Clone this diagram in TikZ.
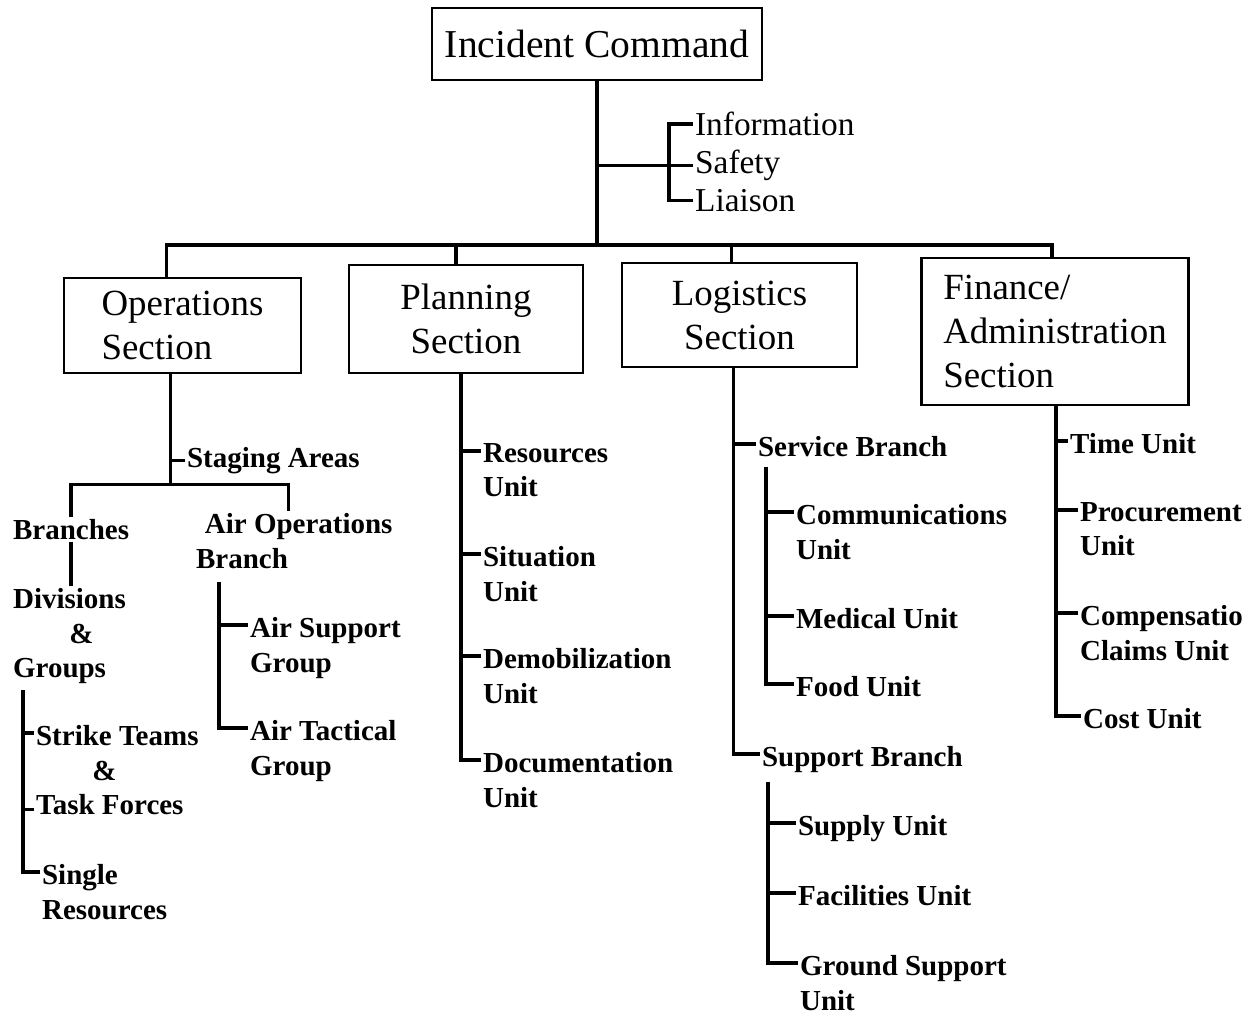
\documentclass[tikz,border=0pt]{standalone}
\usepackage{fontspec}
\setmainfont{Liberation Serif}
\usetikzlibrary{positioning,calc}

\begin{document}
\begin{tikzpicture}[x=0.02cm, y=-0.02cm,
        box/.style = {rectangle, draw, line width=1.5pt, inner sep=2pt, font=\fontsize{21}{25}\selectfont},
      staff/.style = {anchor=north west, inner sep=1pt, font=\fontsize{19}{22}\selectfont},
        lab/.style = {anchor=north west, align=left, inner sep=1pt, font=\bfseries\fontsize{16.5}{19.8}\selectfont},
       tree/.style = {line width=1.9pt}
                        ]
\useasboundingbox (0,0) rectangle (1256,1015);
% command and staff
\node (ic) [box, minimum width=6.6cm, minimum height=1.44cm, font=\fontsize{22.5}{27}\selectfont] at (597,44) {Incident Command};
\node (info)    [staff] at (693,110) {Information};
\node (safety)  [staff] at (693,148) {Safety};
\node (liaison) [staff] at (693,187) {Liaison};
\coordinate (bus) at (597,245);
% sections
\node (ops)  [box, align=left,   minimum width=4.74cm, minimum height=1.9cm]  at (182.5,325.5) {Operations\\Section};
\node (plan) [box, align=center, minimum width=4.68cm, minimum height=2.16cm] at (466,319)     {Planning\\Section};
\node (log)  [box, align=center, minimum width=4.7cm,  minimum height=2.08cm] at (739.5,315)   {Logistics\\Section};
\node (fin)  [box, align=left,   minimum width=5.34cm, minimum height=2.94cm] at (1055,331.5)  {Finance/\\Administration\\Section};
% operations
\node (staging)  [lab] at (185,445) {Staging Areas};
\node (branches) [lab] at (11,517)  {Branches};
\node (airops)   [lab] at (194,511) {\hspace*{5pt}Air Operations\\Branch};
\node (divs)     [lab] at (11,586)  {Divisions\\\hspace*{32pt}\&\\Groups};
\node (strike)   [lab] at (34,723)  {Strike Teams\\\hspace*{32pt}\&\\Task Forces};
\node (single)   [lab] at (40,862)  {Single\\Resources};
\node (airsup)   [lab] at (248,615) {Air Support\\Group};
\node (airtac)   [lab] at (248,718) {Air Tactical\\Group};
% planning
\node (res)   [lab] at (481,441) {Resources\\Unit};
\node (sit)   [lab] at (481,544) {Situation\\Unit};
\node (demob) [lab] at (481,646) {Demobilization\\Unit};
\node (doc)   [lab] at (481,750) {Documentation\\Unit};
% logistics
\node (service) [lab] at (756,434) {Service Branch};
\node (comm)    [lab] at (794,502) {Communications\\Unit};
\node (med)     [lab] at (794,606) {Medical Unit};
\node (food)    [lab] at (794,674) {Food Unit};
\node (support) [lab] at (760,744) {Support Branch};
\node (supply)  [lab] at (796,813) {Supply Unit};
\node (facil)   [lab] at (796,883) {Facilities Unit};
\node (ground)  [lab] at (798,953) {Ground Support\\Unit};
% finance
\node (time) [lab] at (1068,431) {Time Unit};
\node (proc) [lab] at (1078,500) {Procurement\\Unit};
\node (comp) [lab] at (1078,603) {Compensatio\\Claims Unit};
\node (cost) [lab] at (1081,706) {Cost Unit};

\draw[tree] (ic.south) -- (bus);
\draw[tree] (ic.south |- safety.west) -- (safety.west);
\draw[tree] (info.west) -- ++(-24,0) |- (liaison.west);
\draw[tree] ($(ops.north)+(-16,0)$) |- (bus) -| ($(fin.north)+(-3,0)$);
\draw[tree] ($(plan.north)+(-10,0)$) |- (bus);
\draw[tree] ($(log.north)+(-8,0)$) |- (bus);

\coordinate (opsj) at ($(ops.south)+(-12,110)$);
\draw[tree] ($(ops.south)+(-12,0)$) -- (opsj);
\draw[tree] (staging.west) -- ++(-15,0);
\draw[tree] (branches.north) |- (opsj) -| ($(airops.north)+(-6,0)$);
\draw[tree] (branches.south) -- (branches.south |- divs.north);
\draw[tree] ($(divs.south west)+(12,4)$) |- ([yshift=-0.2cm]single.north west);
\draw[tree] ([yshift=-0.2cm]strike.north west) -- ++(-13,0);
\draw[tree] ([yshift=0.16cm]strike.south west) -- ++(-13,0);
\draw[tree] ($(airops.south west)+(25,12)$) |- ([yshift=-0.2cm]airtac.north west);
\draw[tree] ([yshift=-0.2cm]airsup.north west) -- ++(-29,0);

\draw[tree] ($(plan.south)+(-5,0)$) |- ([yshift=-0.2cm]doc.north west);
\foreach \u in {res,sit,demob}
  \draw[tree] ([yshift=-0.2cm]\u.north west) -- ++(-20,0);

\draw[tree] ($(log.south)+(-6,0)$) |- ([yshift=-0.2cm]support.north west);
\draw[tree] ([yshift=-0.2cm]service.north west) -- ++(-22,0);
\draw[tree] ($(service.south west)+(10,8)$) |- ([yshift=-0.2cm]food.north west);
\foreach \u in {comm,med}
  \draw[tree] ([yshift=-0.2cm]\u.north west) -- ++(-28,0);
\draw[tree] ($(support.south west)+(8,7)$) |- ([yshift=-0.2cm]ground.north west);
\foreach \u in {supply,facil}
  \draw[tree] ([yshift=-0.2cm]\u.north west) -- ++(-28,0);

\draw[tree] ($(fin.south)+(1,0)$) |- ([yshift=-0.2cm]cost.north west);
\draw[tree] ([yshift=-0.2cm]time.north west) -- ++(-12,0);
\foreach \u in {proc,comp}
  \draw[tree] ([yshift=-0.2cm]\u.north west) -- ++(-22,0);
\end{tikzpicture}
\end{document}
